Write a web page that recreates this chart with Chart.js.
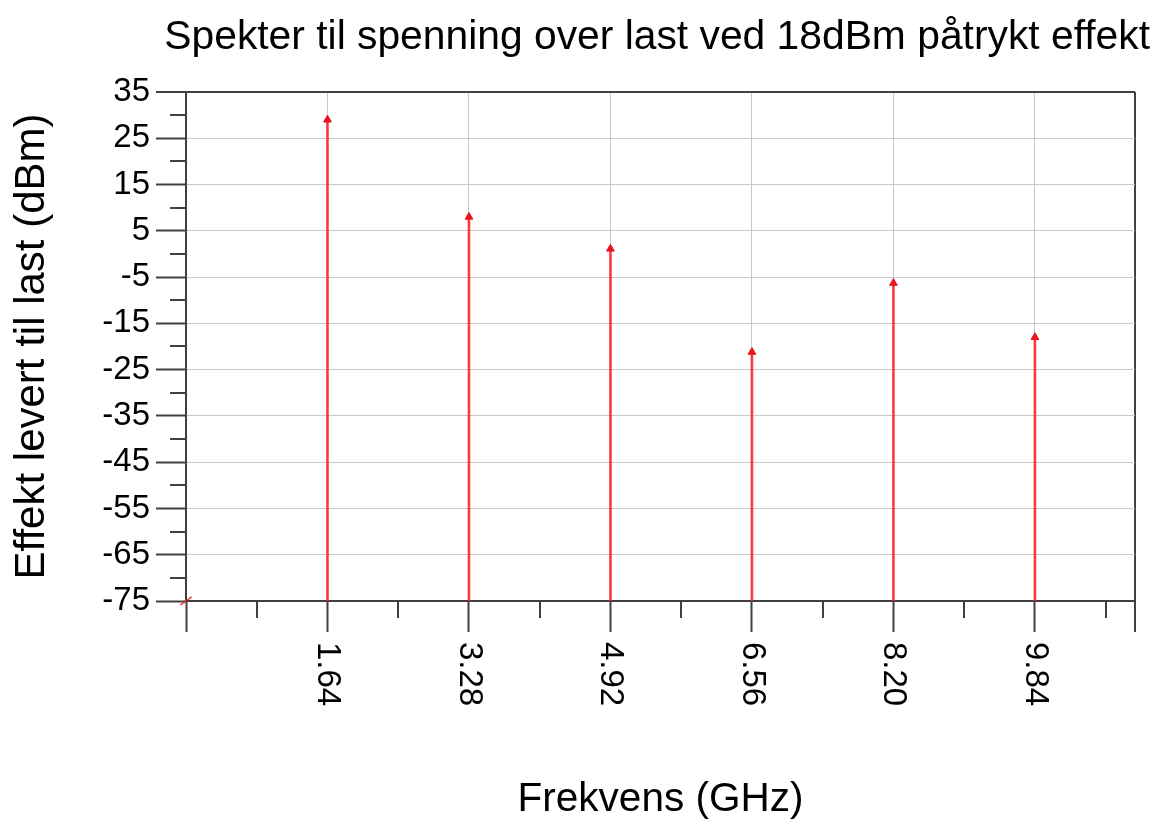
<!DOCTYPE html>
<html>
<head>
<meta charset="utf-8">
<title>Spekter</title>
<script src="https://cdn.jsdelivr.net/npm/chart.js@4.4.1/dist/chart.umd.min.js"></script>
<style>
  html, body { margin: 0; padding: 0; background: #fff; }
  #wrap { width: 1174px; height: 829px; }
</style>
</head>
<body>
<div id="wrap"><canvas id="spectrum"></canvas></div>
<script>
// Harmonics of the load voltage spectrum
const harmonicFreqs = [1.64, 3.28, 4.92, 6.56, 8.20, 9.84];
const loadPowerDbm = [29.0, 8.0, 1.1, -21.2, -6.3, -18.0];

// DC term sits at the bottom of the plot
const dcFreq = [0];
const dcPower = [-75];

// Axis ticks
const xTickValues = [0, 1.64, 3.28, 4.92, 6.56, 8.20, 9.84, 11];
const xTickLabels = ["", "1.64", "3.28", "4.92", "6.56", "8.20", "9.84", ""];
const xMinorTicks = [0.82, 2.46, 4.10, 5.74, 7.38, 9.02, 10.66];
const yTickValues = [-75, -65, -55, -45, -35, -25, -15, -5, 5, 15, 25, 35];
const yMinorTicks = [-70, -60, -50, -40, -30, -20, -10, 0, 10, 20, 30];

const FONT = "'Liberation Sans', Arial, sans-serif";
const axisColor = "#404040";
const gridColor = "#c8c8c8";
const stemColor = "rgba(255, 30, 30, 0.85)";
const markerColor = "#e8141e";

const yMin = -75;
const yMax = 35;
const xMin = 0;
const xMax = 11;

Chart.defaults.font.family = FONT;

// Minor tick marks and the rotated frequency labels
const axisExtras = {
  id: "axisExtras",
  afterDraw(chart) {
    const { ctx, scales: { x, y } } = chart;
    ctx.save();
    ctx.strokeStyle = axisColor;
    ctx.lineWidth = 2;
    ctx.beginPath();
    xMinorTicks.forEach((v) => {
      const px = Math.round(x.getPixelForValue(v));
      ctx.moveTo(px, y.bottom);
      ctx.lineTo(px, y.bottom + 17);
    });
    yMinorTicks.forEach((v) => {
      const py = Math.round(y.getPixelForValue(v));
      ctx.moveTo(x.left - 16, py);
      ctx.lineTo(x.left, py);
    });
    ctx.stroke();

    ctx.fillStyle = "#000";
    ctx.font = "33px " + FONT;
    ctx.textAlign = "left";
    ctx.textBaseline = "middle";
    xTickValues.forEach((v, i) => {
      if (!xTickLabels[i]) return;
      const px = x.getPixelForValue(v);
      ctx.save();
      ctx.translate(px, x.top + 41);
      ctx.rotate(Math.PI / 2);
      ctx.fillText(xTickLabels[i], 0, 0);
      ctx.restore();
    });
    ctx.restore();
  }
};

const isEdge = (v, edge) => Math.abs(v - edge) < 1e-6;

new Chart(document.getElementById("spectrum").getContext("2d"), {
  type: "scatter",
  data: {
    datasets: [
      {
        type: "bar",
        data: harmonicFreqs.map((f, i) => ({ x: f, y: [yMin, loadPowerDbm[i]] })),
        backgroundColor: stemColor,
        borderWidth: 0,
        barThickness: 2,
        order: 2
      },
      {
        type: "scatter",
        data: harmonicFreqs.map((f, i) => ({ x: f, y: loadPowerDbm[i] })),
        pointStyle: "triangle",
        pointRadius: 4.5,
        backgroundColor: markerColor,
        borderColor: markerColor,
        borderWidth: 1,
        order: 1
      },
      {
        type: "scatter",
        data: dcFreq.map((f, i) => ({ x: f, y: dcPower[i] })),
        pointStyle: "line",
        rotation: -35,
        pointRadius: 7,
        borderColor: "rgba(240, 20, 20, 0.8)",
        borderWidth: 1.5,
        clip: 10,
        order: 0
      }
    ]
  },
  options: {
    responsive: true,
    maintainAspectRatio: false,
    animation: false,
    devicePixelRatio: 1,
    layout: { padding: { left: 0, right: 24, top: 0, bottom: 0 } },
    plugins: {
      legend: { display: false },
      tooltip: { enabled: false },
      title: {
        display: true,
        text: "Spekter til spenning over last ved 18dBm påtrykt effekt",
        align: "end",
        color: "#000",
        font: { size: 40.8, weight: "normal" },
        padding: { top: 13.5, bottom: 29.5 }
      }
    },
    scales: {
      x: {
        type: "linear",
        position: "bottom",
        min: xMin,
        max: xMax,
        offset: false,
        afterBuildTicks: (scale) => { scale.ticks = xTickValues.map((v) => ({ value: v })); },
        afterFit: (scale) => { scale.height = 228; },
        ticks: { display: false },
        grid: {
          offset: false,
          color: (c) => (c.tick && isEdge(c.tick.value, xMax) ? axisColor : gridColor),
          lineWidth: (c) => (c.tick && isEdge(c.tick.value, xMax) ? 2 : 1),
          tickLength: 31,
          tickColor: axisColor,
          tickWidth: 2
        },
        border: { color: axisColor, width: 2 },
        title: {
          display: true,
          text: "Frekvens (GHz)",
          color: "#000",
          font: { size: 40.5 },
          padding: { top: 0, bottom: 5 }
        }
      },
      y: {
        type: "linear",
        position: "left",
        min: yMin,
        max: yMax,
        afterBuildTicks: (scale) => { scale.ticks = yTickValues.map((v) => ({ value: v })); },
        afterFit: (scale) => { scale.width = 186; },
        ticks: { color: "#000", font: { size: 33 }, padding: 6 },
        grid: {
          color: (c) => (c.tick && isEdge(c.tick.value, yMax) ? axisColor : gridColor),
          lineWidth: (c) => (c.tick && isEdge(c.tick.value, yMax) ? 2 : 1),
          tickLength: 30,
          tickColor: axisColor,
          tickWidth: 2
        },
        border: { color: axisColor, width: 2 },
        title: {
          display: true,
          text: "Effekt levert til last (dBm)",
          color: "#000",
          font: { size: 42 },
          padding: { top: 7, bottom: 0 }
        }
      },
      // empty strip on the right so the frame ends short of the title
      gutter: {
        type: "linear",
        position: "right",
        min: yMin,
        max: yMax,
        afterFit: (scale) => { scale.width = 15; },
        ticks: { display: false },
        grid: { display: false },
        border: { display: false }
      }
    }
  },
  plugins: [axisExtras]
});
</script>
</body>
</html>
